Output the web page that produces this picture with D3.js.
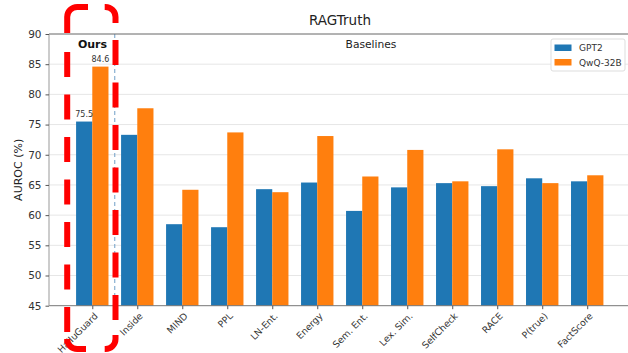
<!DOCTYPE html>
<html>
<head>
<meta charset="utf-8">
<script src="https://cdn.jsdelivr.net/npm/d3@7"></script>
<style>
  html, body { margin: 0; padding: 0; background: #fff; }
  svg { display: block; font-family: "DejaVu Sans", sans-serif; }
</style>
</head>
<body>
<svg id="chart" width="628" height="353"></svg>
<script>
// RAGTruth AUROC comparison: HalluGuard vs. baselines on two backbones
const categories = ["HalluGuard", "Inside", "MIND", "PPL", "LN-Ent.", "Energy",
  "Sem. Ent.", "Lex. Sim.", "SelfCheck", "RACE", "P(true)", "FactScore"];
const seriesNames = ["GPT2", "QwQ-32B"];
const gpt2 = [75.5, 73.3, 58.5, 58.0, 64.3, 65.4, 60.7, 64.6, 65.3, 64.8, 66.1, 65.6];
const qwq = [84.6, 77.7, 64.2, 73.7, 63.8, 73.1, 66.4, 70.8, 65.6, 70.9, 65.3, 66.6];
const yTicks = [45, 50, 55, 60, 65, 70, 75, 80, 85, 90];
const colors = ["#1f77b4", "#ff7f0e"];

const svg = d3.select("#chart");
const plotL = 49, plotT = 34, plotB = 305.7, plotR = 630.5;

const x = d3.scaleLinear().domain([-0.962, categories.length - 1 + 0.962]).range([plotL, plotR]);
const y = d3.scaleLinear().domain([45, 90]).range([plotB, plotT]);
const barW = 0.36;

// grid
svg.append("g").selectAll("line").data(yTicks.slice(1, -1)).join("line")
  .attr("x1", plotL).attr("x2", plotR)
  .attr("y1", d => y(d)).attr("y2", d => y(d))
  .attr("stroke", "#e6e6e6").attr("stroke-width", 1);

// bars
const series = [gpt2, qwq];
series.forEach((vals, s) => {
  svg.append("g").selectAll("rect").data(vals).join("rect")
    .attr("x", (d, i) => x(i + (s === 0 ? -barW : 0)))
    .attr("width", x(barW) - x(0))
    .attr("y", d => y(d))
    .attr("height", d => y(45) - y(d))
    .attr("fill", colors[s]);
});

// value labels for the proposed method
[gpt2[0], qwq[0]].forEach((v, s) => {
  svg.append("text")
    .attr("x", x(0 + (s === 0 ? -barW / 2 : barW / 2)))
    .attr("y", y(v) - 4.5)
    .attr("text-anchor", "middle")
    .attr("font-size", 8).attr("fill", "#333")
    .text(v.toFixed(1));
});

// separator between ours and baselines
svg.append("line")
  .attr("x1", x(0.5)).attr("x2", x(0.5))
  .attr("y1", plotT).attr("y2", plotB)
  .attr("stroke", "#6f9fc8").attr("stroke-width", 1)
  .attr("stroke-dasharray", "4,3");

// spines
svg.append("line").attr("x1", plotL).attr("x2", plotR).attr("y1", plotT).attr("y2", plotT)
  .attr("stroke", "#666").attr("stroke-width", 1);
svg.append("line").attr("x1", plotL).attr("x2", plotR).attr("y1", plotB).attr("y2", plotB)
  .attr("stroke", "#777").attr("stroke-width", 1);
svg.append("line").attr("x1", plotL).attr("x2", plotL).attr("y1", plotT).attr("y2", plotB)
  .attr("stroke", "#999").attr("stroke-width", 1);

// y axis
const yAxis = svg.append("g").attr("transform", `translate(${plotL},0)`)
  .call(d3.axisLeft(y).tickValues(yTicks).tickSize(3.5).tickPadding(4));
yAxis.select(".domain").remove();
yAxis.selectAll("line").attr("stroke", "#555");
yAxis.selectAll("text").attr("font-size", 10.5).attr("fill", "#333")
  .attr("font-family", "DejaVu Sans, sans-serif");

// x axis with rotated category labels
const xAxis = svg.append("g").attr("transform", `translate(0,${plotB})`)
  .call(d3.axisBottom(x).tickValues(d3.range(categories.length))
    .tickFormat(i => categories[i]).tickSize(3.5));
xAxis.select(".domain").remove();
xAxis.selectAll("line").attr("stroke", "#555");
xAxis.selectAll("text")
  .attr("font-size", 9.3).attr("fill", "#333")
  .attr("font-family", "DejaVu Sans, sans-serif")
  .attr("text-anchor", "end")
  .attr("x", 0).attr("y", 0)
  .attr("dy", "0.35em")
  .attr("transform", "translate(3.3,8.6) rotate(-45)");

// titles
svg.append("text").attr("x", 340).attr("y", 25).attr("text-anchor", "middle")
  .attr("font-size", 13.5).attr("fill", "#222").text("RAGTruth");
svg.append("text").attr("x", 371).attr("y", 48).attr("text-anchor", "middle")
  .attr("font-size", 10.7).attr("fill", "#222").text("Baselines");
svg.append("text").attr("x", 92.5).attr("y", 48).attr("text-anchor", "middle")
  .attr("font-size", 11).attr("font-weight", "bold").attr("fill", "#111").text("Ours");
svg.append("text")
  .attr("transform", `translate(22,${(plotT + plotB) / 2}) rotate(-90)`)
  .attr("text-anchor", "middle").attr("font-size", 11).attr("fill", "#222")
  .text("AUROC (%)");

// legend
const lg = svg.append("g").attr("transform", "translate(551,39)");
lg.append("rect").attr("width", 74).attr("height", 32).attr("rx", 2)
  .attr("fill", "#fff").attr("stroke", "#ddd");
seriesNames.forEach((n, i) => {
  lg.append("rect").attr("x", 3.5).attr("y", 5.5 + i * 14.5).attr("width", 17).attr("height", 6.5)
    .attr("fill", colors[i]);
  lg.append("text").attr("x", 28).attr("y", 9 + i * 14.5).attr("dy", "0.35em")
    .attr("font-size", 9).attr("fill", "#333").text(n);
});

// dashed rounded highlight box around the proposed method
const boxL = 67.2, boxR = 115.5, boxT = 7, boxB = 349, r = 10;
const hl = svg.append("g").attr("fill", "none").attr("stroke", "#ff0000")
  .attr("stroke-width", 6);
const corner = (pts) => {
  const p = d3.path();
  p.moveTo(pts[0][0], pts[0][1]);
  p.lineTo(pts[1][0], pts[1][1]);
  p.arcTo(pts[2][0], pts[2][1], pts[3][0], pts[3][1], r);
  p.lineTo(pts[4][0], pts[4][1]);
  return p.toString();
};
// corners
hl.append("path").attr("d", corner([[88, boxT], [boxL + r, boxT], [boxL, boxT], [boxL, boxT + r], [boxL, 33]]));
hl.append("path").attr("d", corner([[104.7, boxT], [boxR - r, boxT], [boxR, boxT], [boxR, boxT + r], [boxR, 23]]));
hl.append("path").attr("d", corner([[boxL, 343], [boxL, boxB - r], [boxL, boxB], [boxL + r, boxB], [86, boxB]]));
hl.append("path").attr("d", corner([[boxR, 335], [boxR, boxB - r], [boxR, boxB], [boxR - r, boxB], [104.7, boxB]]));
// dashed sides
hl.append("line").attr("x1", boxL).attr("x2", boxL).attr("y1", 52).attr("y2", 332)
  .attr("stroke-dasharray", "25,17.5");
hl.append("line").attr("x1", boxR).attr("x2", boxR).attr("y1", 40).attr("y2", 320)
  .attr("stroke-dasharray", "25,17.5");
</script>
</body>
</html>
